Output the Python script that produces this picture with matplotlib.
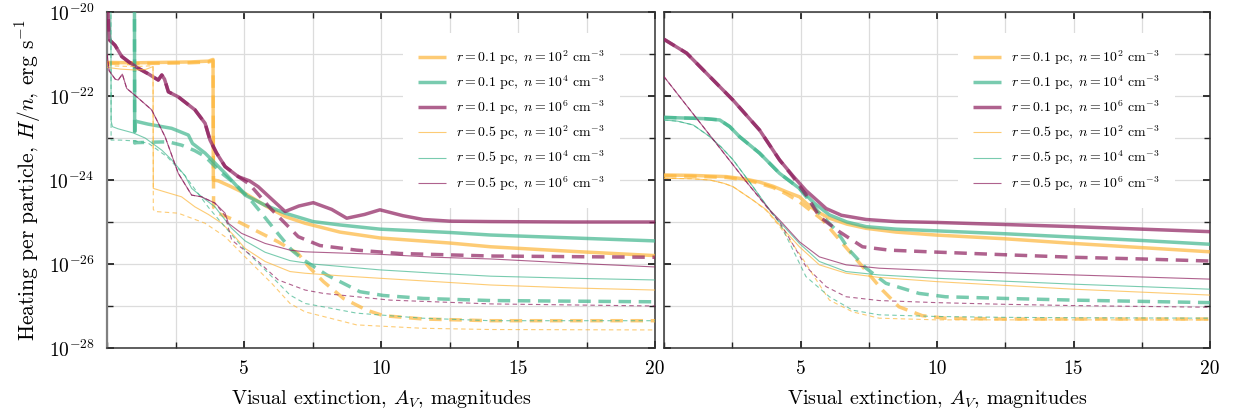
import matplotlib
matplotlib.use('Agg')
import numpy as np
import matplotlib.pyplot as plt

plt.rcParams['font.family'] = ['cmr10']
plt.rcParams['mathtext.fontset'] = 'cm'
plt.rcParams['axes.formatter.use_mathtext'] = True

# ---------------- data (A_V in mag, log10 of H/n in erg s^-1) ----------------
# LEFT PANEL
L_r1_n2_av = [0, 1.0, 2.0, 3.0, 3.7, 3.87, 3.88, 4.06, 4.5, 5.04, 5.8, 6.5, 7.23, 8.5, 9.96, 12.5, 14, 17, 20]
L_r1_n2_lg = [-21.20, -21.21, -21.20, -21.19, -21.17, -21.13, -24.0, -24.02, -24.15, -24.32, -24.62, -24.87, -25.03, -25.24, -25.38, -25.5, -25.59, -25.7, -25.8]
L_r1_n2d_av = [0, 1.0, 2.0, 3.0, 3.7, 3.87, 3.89, 4.05, 4.78, 5.51, 6.24, 6.97, 7.41, 7.9, 8.63, 9.48, 10.09, 11.55, 14, 20]
L_r1_n2d_lg = [-21.22, -21.23, -21.22, -21.21, -21.19, -21.16, -24.65, -24.79, -24.99, -25.23, -25.47, -25.75, -26.10, -26.42, -26.82, -27.10, -27.23, -27.31, -27.35, -27.35]

L_r1_n4_av = [0, 1.0, 1.01, 1.04, 1.5, 2.36, 2.97, 3.12, 3.58, 4.31, 5.04, 5.77, 6.5, 7.52, 8.5, 9.96, 12.52, 14, 17, 20]
L_r1_n4_lg = [-19.0, -19.0, -22.85, -22.60, -22.67, -22.77, -22.93, -23.13, -23.36, -23.84, -24.36, -24.6, -24.79, -24.99, -25.07, -25.17, -25.25, -25.31, -25.38, -25.45]
L_r1_n4d_av = [0, 1.0, 1.01, 1.08, 2.23, 2.72, 3.2, 3.58, 4.19, 4.6, 5.15, 5.64, 6.13, 6.74, 7.17, 8.02, 9.23, 10.09, 11.55, 14, 20]
L_r1_n4d_lg = [-19.0, -19.0, -23.12, -23.11, -23.09, -23.17, -23.3, -23.44, -23.84, -24.05, -24.40, -24.79, -25.19, -25.67, -25.90, -26.26, -26.66, -26.75, -26.82, -26.87, -26.90]

L_r1_n6_av = [0, 0.08, 0.1, 0.29, 0.54, 0.78, 1.14, 1.5, 1.87, 2.0, 2.1, 2.24, 2.6, 3.21, 3.58, 3.76, 4.0, 4.31, 4.79, 5.2, 5.52, 6.0, 6.5, 7.0, 7.53, 8.2, 8.75, 9.4, 9.96, 10.8, 11.54, 12.52, 14, 17, 20]
L_r1_n6_lg = [-19.5, -20.5, -20.67, -20.79, -21.06, -21.18, -21.34, -21.47, -21.62, -21.5, -21.6, -21.90, -22.02, -22.33, -22.65, -23.05, -23.36, -23.68, -23.92, -24.02, -24.16, -24.45, -24.75, -24.62, -24.54, -24.7, -24.91, -24.82, -24.71, -24.85, -24.94, -24.98, -24.99, -25.0, -25.0]
L_r1_n6d_av = [0, 0.08, 0.1, 0.29, 0.54, 0.78, 1.14, 1.5, 1.87, 2.0, 2.1, 2.24, 2.6, 3.21, 3.58, 3.76, 4.0, 4.31, 4.79, 5.2, 5.6, 6.0, 6.5, 6.98, 7.77, 9.11, 10.69, 14, 20]
L_r1_n6d_lg = [-19.5, -20.5, -20.67, -20.79, -21.06, -21.18, -21.34, -21.47, -21.62, -21.5, -21.6, -21.90, -22.02, -22.33, -22.65, -23.05, -23.36, -23.68, -23.92, -24.1, -24.4, -24.7, -25.03, -25.35, -25.56, -25.67, -25.75, -25.81, -25.84]

L_r5_n2_av = [0, 0.5, 1.0, 1.4, 1.68, 1.69, 2.2, 2.72, 3.21, 3.7, 4.19, 4.6, 5.04, 5.77, 6.68, 7.23, 8.5, 9.96, 12, 14, 17, 20]
L_r5_n2_lg = [-21.32, -21.36, -21.38, -21.37, -21.30, -24.2, -24.3, -24.40, -24.64, -24.82, -25.03, -25.3, -25.63, -25.94, -26.18, -26.22, -26.28, -26.34, -26.42, -26.5, -26.57, -26.62]
L_r5_n2d_av = [0, 1.0, 1.68, 1.69, 1.75, 2.6, 3.58, 4.31, 5.04, 6.01, 6.68, 7.23, 7.9, 9.11, 11.5, 14, 20]
L_r5_n2d_lg = [-21.28, -21.3, -21.28, -24.7, -24.75, -24.79, -25.03, -25.35, -25.83, -26.46, -26.94, -27.14, -27.25, -27.45, -27.53, -27.56, -27.57]

L_r5_n4_av = [0, 0.14, 0.15, 0.2, 0.4, 0.96, 1.39, 2.0, 2.36, 2.85, 3.09, 3.5, 3.94, 4.55, 5.04, 5.77, 6.68, 7.5, 9.96, 12, 14, 17, 20]
L_r5_n4_lg = [-19.0, -19.0, -22.6, -22.73, -22.78, -22.88, -23.0, -23.29, -23.52, -23.9, -24.2, -24.42, -24.64, -25.15, -25.45, -25.72, -25.92, -26.0, -26.14, -26.22, -26.29, -26.34, -26.38]
L_r5_n4d_av = [0, 0.14, 0.15, 0.5, 1.0, 1.5, 2.2, 2.85, 3.3, 3.7, 4.19, 5.04, 5.77, 6.5, 6.68, 7.23, 7.9, 9.11, 11.5, 14, 20]
L_r5_n4d_lg = [-19.0, -19.0, -23.05, -23.05, -23.07, -23.12, -23.45, -23.9, -24.3, -24.65, -25.03, -25.67, -26.14, -26.62, -26.74, -26.94, -27.02, -27.17, -27.29, -27.35, -27.35]

L_r5_n6_av = [0, 0.08, 0.3, 0.41, 0.56, 0.72, 1.14, 1.63, 2.12, 2.6, 3.09, 3.45, 3.94, 4.31, 4.43, 4.91, 5.77, 6.68, 7.23, 9.96, 12, 14, 17, 20]
L_r5_n6_lg = [-21.0, -21.4, -21.6, -21.62, -21.48, -21.82, -22.05, -22.33, -22.97, -23.84, -24.36, -24.40, -24.55, -24.79, -25.03, -25.27, -25.51, -25.67, -25.71, -25.77, -25.84, -25.88, -25.98, -26.07]
L_r5_n6d_av = [0, 0.08, 0.3, 0.41, 0.56, 0.72, 1.14, 1.63, 2.12, 2.6, 3.09, 3.45, 3.94, 4.31, 4.55, 5.4, 6.25, 7.23, 7.9, 10.33, 14, 20]
L_r5_n6d_lg = [-21.0, -21.4, -21.6, -21.62, -21.48, -21.82, -22.05, -22.33, -22.97, -23.84, -24.36, -24.40, -24.55, -24.85, -25.43, -25.87, -26.38, -26.62, -26.70, -26.86, -26.95, -27.0]

# RIGHT PANEL
R_r1_n2_av = [0, 1.0, 2.29, 3.0, 3.5, 4.0, 4.48, 4.96, 5.21, 5.6, 6.06, 6.7, 7.4, 8.5, 9.95, 12.5, 15, 17.5, 20]
R_r1_n2_lg = [-23.88, -23.89, -23.92, -23.98, -24.05, -24.15, -24.28, -24.4, -24.55, -24.75, -24.91, -25.05, -25.15, -25.24, -25.31, -25.40, -25.51, -25.61, -25.71]
R_r1_n2d_av = [0, 1.0, 2.29, 3.0, 3.5, 4.0, 4.48, 4.96, 5.81, 6.54, 7.27, 8.0, 8.61, 9.46, 10.3, 12.5, 15, 17.5, 20]
R_r1_n2d_lg = [-23.9, -23.91, -23.94, -24.0, -24.08, -24.18, -24.33, -24.52, -24.95, -25.51, -26.06, -26.62, -27.02, -27.23, -27.29, -27.31, -27.31, -27.31, -27.31]

R_r1_n4_av = [0, 1.07, 1.5, 2.04, 2.41, 2.77, 3.5, 4.23, 4.96, 5.5, 6.06, 6.7, 7.4, 8.5, 9.95, 12.5, 15, 17.5, 20]
R_r1_n4_lg = [-22.51, -22.53, -22.54, -22.57, -22.73, -22.97, -23.36, -23.84, -24.2, -24.55, -24.83, -25.0, -25.11, -25.17, -25.21, -25.28, -25.36, -25.44, -25.53]
R_r1_n4d_av = [0, 1.07, 1.5, 2.04, 2.41, 2.77, 3.5, 4.23, 4.96, 5.69, 6.3, 6.79, 7.4, 8.13, 9.34, 10.31, 12.5, 15, 17.5, 20]
R_r1_n4d_lg = [-22.51, -22.53, -22.54, -22.57, -22.73, -22.97, -23.36, -23.84, -24.2, -24.79, -25.19, -25.67, -26.10, -26.46, -26.70, -26.78, -26.82, -26.86, -26.89, -26.92]

R_r1_n6_av = [0, 0.83, 1.68, 2.53, 3.5, 4.23, 4.72, 5.2, 5.94, 6.5, 7.4, 8.5, 9.95, 12.5, 15, 17.5, 20]
R_r1_n6_lg = [-20.65, -20.98, -21.54, -22.10, -22.81, -23.52, -23.9, -24.25, -24.68, -24.84, -24.94, -24.99, -25.01, -25.06, -25.11, -25.17, -25.23]
R_r1_n6d_av = [0, 0.83, 1.68, 2.53, 3.5, 4.23, 4.72, 5.2, 5.69, 6.42, 7.27, 8.25, 9.71, 12.5, 15, 17.5, 20]
R_r1_n6d_lg = [-20.65, -20.98, -21.54, -22.10, -22.81, -23.52, -23.92, -24.35, -24.87, -25.23, -25.59, -25.67, -25.71, -25.78, -25.84, -25.88, -25.93]

R_r5_n2_av = [0, 1.0, 1.68, 2.2, 2.53, 3.26, 3.75, 4.23, 4.96, 5.69, 6.67, 7.88, 10, 12.5, 15, 17.5, 20]
R_r5_n2_lg = [-23.96, -23.97, -24.0, -24.08, -24.16, -24.48, -24.71, -25.07, -25.59, -26.02, -26.22, -26.32, -26.42, -26.51, -26.60, -26.67, -26.74]
R_r5_n2d_av = [0, 1.0, 1.68, 2.2, 2.53, 3.26, 3.75, 4.23, 4.96, 5.5, 6.06, 6.91, 7.88, 10, 12.5, 15, 20]
R_r5_n2d_lg = [-23.96, -23.97, -24.0, -24.08, -24.16, -24.48, -24.73, -25.1, -25.75, -26.3, -26.86, -27.14, -27.29, -27.33, -27.33, -27.33, -27.33]

R_r5_n4_av = [0, 0.5, 1.07, 1.68, 2.1, 2.53, 3.26, 3.87, 4.23, 4.96, 5.69, 6.67, 7.88, 10, 12.5, 15, 17.5, 20]
R_r5_n4_lg = [-22.57, -22.6, -22.69, -22.97, -23.22, -23.52, -24.16, -24.71, -24.99, -25.51, -25.94, -26.18, -26.26, -26.34, -26.41, -26.48, -26.54, -26.60]
R_r5_n4d_av = [0, 0.5, 1.07, 1.68, 2.1, 2.53, 3.26, 3.87, 4.23, 4.6, 5.2, 6.06, 6.91, 7.88, 10, 12.5, 15, 20]
R_r5_n4d_lg = [-22.57, -22.6, -22.69, -22.97, -23.22, -23.52, -24.16, -24.72, -25.02, -25.5, -26.3, -26.78, -27.1, -27.21, -27.25, -27.27, -27.28, -27.29]

R_r5_n6_av = [0, 1.0, 2.0, 3.0, 3.87, 4.23, 4.96, 5.69, 6.67, 7.88, 10, 12.5, 15, 17.5, 20]
R_r5_n6_lg = [-21.54, -22.37, -23.2, -24.03, -24.71, -24.95, -25.47, -25.83, -26.02, -26.10, -26.16, -26.21, -26.26, -26.31, -26.36]
R_r5_n6d_av = [0, 1.0, 2.0, 3.0, 3.87, 4.23, 4.6, 5.2, 5.94, 6.67, 7.88, 10, 12.5, 15, 17.5, 20]
R_r5_n6d_lg = [-21.54, -22.37, -23.2, -24.03, -24.73, -25.0, -25.4, -26.06, -26.54, -26.78, -26.87, -26.92, -26.96, -26.99, -27.01, -27.03]

legend_labels = [
    r'$r = 0.1\ \mathrm{pc},\ n = 10^{2}\ \mathrm{cm}^{-3}$',
    r'$r = 0.1\ \mathrm{pc},\ n = 10^{4}\ \mathrm{cm}^{-3}$',
    r'$r = 0.1\ \mathrm{pc},\ n = 10^{6}\ \mathrm{cm}^{-3}$',
    r'$r = 0.5\ \mathrm{pc},\ n = 10^{2}\ \mathrm{cm}^{-3}$',
    r'$r = 0.5\ \mathrm{pc},\ n = 10^{4}\ \mathrm{cm}^{-3}$',
    r'$r = 0.5\ \mathrm{pc},\ n = 10^{6}\ \mathrm{cm}^{-3}$',
]
xticks_major = [5, 10, 15, 20]
xticks_minor = [0, 2.5, 7.5, 12.5, 17.5]
yticks_major = [1e-28, 1e-26, 1e-24, 1e-22, 1e-20]
ytick_labels = [r'$10^{-28}$', r'$10^{-26}$', r'$10^{-24}$', r'$10^{-22}$', r'$10^{-20}$']
yticks_minor = [1e-27, 1e-25, 1e-23, 1e-21]

# ---------------- styles ----------------
col = ['#fdb63a', '#41b68e', '#8e1f5e']
ALPHA = 0.7
LW_THICK = 2.5
LW_THIN = 0.8

left_series = [
    (L_r1_n2_av, L_r1_n2_lg, L_r1_n2d_av, L_r1_n2d_lg),
    (L_r1_n4_av, L_r1_n4_lg, L_r1_n4d_av, L_r1_n4d_lg),
    (L_r1_n6_av, L_r1_n6_lg, L_r1_n6d_av, L_r1_n6d_lg),
    (L_r5_n2_av, L_r5_n2_lg, L_r5_n2d_av, L_r5_n2d_lg),
    (L_r5_n4_av, L_r5_n4_lg, L_r5_n4d_av, L_r5_n4d_lg),
    (L_r5_n6_av, L_r5_n6_lg, L_r5_n6d_av, L_r5_n6d_lg),
]
right_series = [
    (R_r1_n2_av, R_r1_n2_lg, R_r1_n2d_av, R_r1_n2d_lg),
    (R_r1_n4_av, R_r1_n4_lg, R_r1_n4d_av, R_r1_n4d_lg),
    (R_r1_n6_av, R_r1_n6_lg, R_r1_n6d_av, R_r1_n6d_lg),
    (R_r5_n2_av, R_r5_n2_lg, R_r5_n2d_av, R_r5_n2d_lg),
    (R_r5_n4_av, R_r5_n4_lg, R_r5_n4d_av, R_r5_n4d_lg),
    (R_r5_n6_av, R_r5_n6_lg, R_r5_n6d_av, R_r5_n6d_lg),
]

fig = plt.figure(figsize=(12.35, 4.2), dpi=100)
axL = fig.add_axes([107 / 1235, 72 / 420, 548 / 1235, 336 / 420])
axR = fig.add_axes([664 / 1235, 72 / 420, 546 / 1235, 336 / 420])


def draw(ax, series, ylabels):
    handles = []
    for i, (av, lg, avd, lgd) in enumerate(series):
        c = col[i % 3]
        thick = i < 3
        lw = LW_THICK if thick else LW_THIN
        dashes = (3.6, 2.2) if thick else (4.0, 3.0)
        h, = ax.plot(av, np.power(10.0, lg), color=c, lw=lw, alpha=ALPHA,
                     solid_capstyle='butt', label=legend_labels[i], zorder=3)
        ax.plot(avd, np.power(10.0, lgd), color=c, lw=lw, alpha=ALPHA,
                dashes=dashes, dash_capstyle='butt', zorder=3)
        handles.append(h)
    ax.set_yscale('log')
    ax.set_xlim(0, 20)
    ax.set_ylim(1e-28, 1e-20)
    ax.set_xticks(xticks_major)
    ax.set_xticklabels([str(v) for v in xticks_major])
    ax.set_xticks(xticks_minor, minor=True)
    ax.set_yticks(yticks_major)
    ax.set_yticks(yticks_minor, minor=True)
    ax.yaxis.set_minor_formatter(matplotlib.ticker.NullFormatter())
    if ylabels:
        ax.set_yticklabels(ytick_labels)
    else:
        ax.set_yticklabels([])
    ax.grid(True, which='both', color='#dcdcdc', lw=0.9, zorder=0)
    ax.set_axisbelow(True)
    ax.tick_params(which='both', direction='in', top=True, right=True,
                   labelsize=14, color='#222222')
    ax.tick_params(which='major', length=5, width=1.3, pad=9)
    ax.tick_params(which='minor', length=4, width=1.0)
    for s in ax.spines.values():
        s.set_color('#333333')
        s.set_linewidth(1.1)
    ax.set_xlabel(r'Visual extinction, $A_V$, magnitudes', fontsize=14.5, labelpad=7)
    leg = ax.legend(handles=handles, loc='upper right', bbox_to_anchor=(0.936, 0.9375),
                    borderaxespad=0, borderpad=1.1, frameon=True, fancybox=False,
                    framealpha=1.0, edgecolor='none', facecolor='white',
                    fontsize=10, handlelength=2.0, handletextpad=0.75,
                    labelspacing=0.47)
    leg.set_zorder(2)


draw(axL, left_series, True)
draw(axR, right_series, False)
axL.spines['left'].set_color('#808080')
axL.spines['left'].set_linewidth(1.6)
axL.set_ylabel(r'Heating per particle, $H/n$, erg s$^{-1}$', fontsize=15.5, labelpad=4)

fig.savefig('out.png', dpi=100)
